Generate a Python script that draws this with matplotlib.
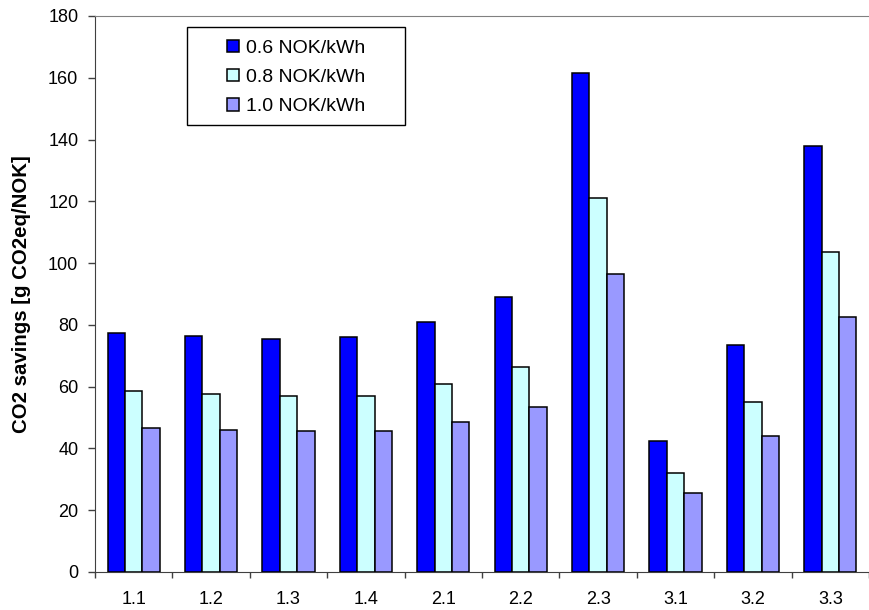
import matplotlib.pyplot as plt
from matplotlib.patches import Rectangle
import numpy as np

plt.rcParams['font.family'] = ['Liberation Sans', 'DejaVu Sans']

# Measures and their savings per electricity price
measures = ['1.1', '1.2', '1.3', '1.4', '2.1', '2.2', '2.3', '3.1', '3.2', '3.3']
price_06 = [77.5, 76.5, 75.5, 76.0, 81.0, 89.0, 161.5, 42.5, 73.5, 138.0]
price_08 = [58.5, 57.5, 57.0, 57.0, 61.0, 66.5, 121.0, 32.0, 55.0, 103.5]
price_10 = [46.5, 46.0, 45.5, 45.5, 48.5, 53.5, 96.5, 25.5, 44.0, 82.5]

series = [
    (price_06, '0.6 NOK/kWh', '#0000ff'),
    (price_08, '0.8 NOK/kWh', '#ccffff'),
    (price_10, '1.0 NOK/kWh', '#9999ff'),
]

W, H = 869, 610
fig = plt.figure(figsize=(W / 100, H / 100), dpi=100)
ax = fig.add_axes([95 / W, 38 / H, 774 / W, 556 / H])

x = np.arange(len(measures))
w = 0.225
for i, (vals, label, color) in enumerate(series):
    ax.bar(x + (i - 1) * w, vals, w, color=color, edgecolor='black',
           linewidth=1.1, label=label, zorder=3)

ax.set_xlim(-0.5, len(measures) - 0.5)
ax.set_ylim(0, 180)
ax.set_yticks(np.arange(0, 181, 20))
ax.set_xticks(x)
ax.set_xticklabels(measures)
ax.set_xticks(np.arange(-0.5, len(measures)), minor=True)
ax.tick_params(axis='x', which='major', length=0, pad=13.5, labelsize=13)
ax.tick_params(axis='x', which='minor', length=4.5, width=1, color='#404040')
ax.tick_params(axis='y', length=5, width=1, color='#404040', labelsize=13, pad=7)

ax.spines['left'].set_color('#404040')
ax.spines['bottom'].set_color('#404040')
ax.spines['top'].set_color('#808080')
ax.spines['right'].set_visible(False)

ax.set_ylabel('CO2 savings [g CO2eq/NOK]', fontsize=14.7, fontweight='bold')
ax.yaxis.set_label_coords((31 - 95) / 774, 0.5)

# legend box drawn separately so the padding can be wide on the left
fig.patches.append(Rectangle((187 / W, 1 - 125 / H), 218 / W, 98 / H,
                             transform=fig.transFigure, facecolor='white',
                             edgecolor='black', linewidth=1.0, zorder=5))
leg = fig.legend(loc='upper left', bbox_to_anchor=(227 / W, 1 - 40 / H), fontsize=14,
                 frameon=False, handlelength=0.6, handleheight=0.6,
                 handletextpad=0.4, borderpad=0, labelspacing=0.62,
                 borderaxespad=0)
leg.set_zorder(6)

fig.savefig('out.png', dpi=100)
